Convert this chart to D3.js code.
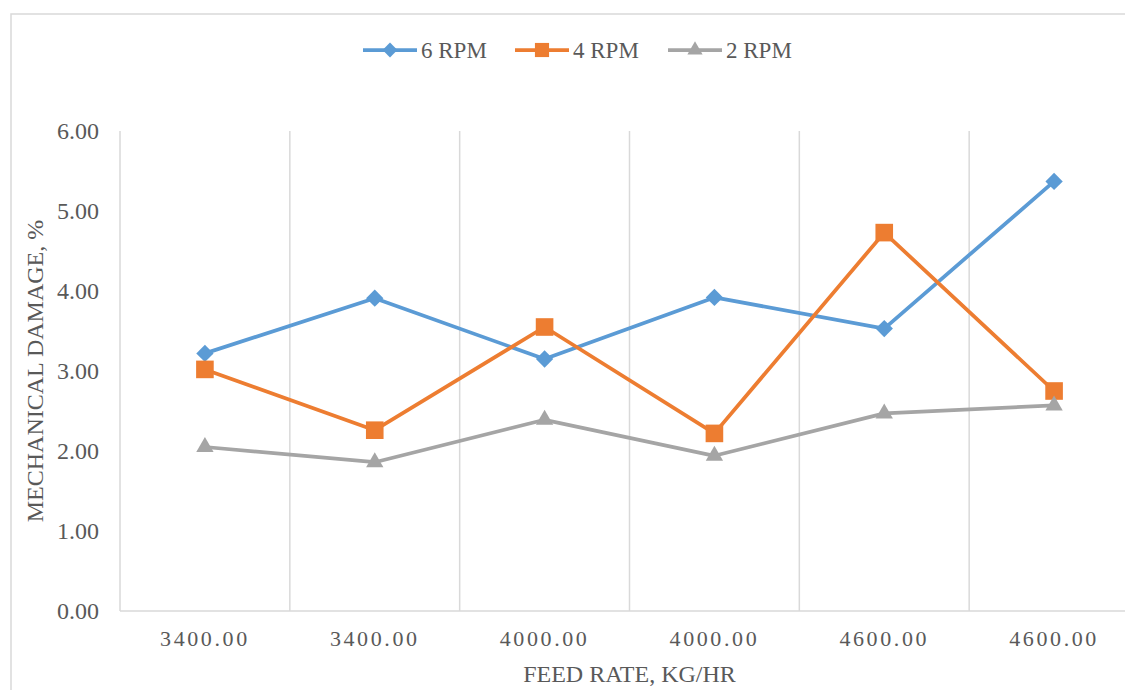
<!DOCTYPE html>
<html>
<head>
<meta charset="utf-8">
<script src="https://cdn.jsdelivr.net/npm/d3@7/dist/d3.min.js"></script>
<style>
  html, body { margin: 0; padding: 0; background: #fff; }
  svg { display: block; }
  text { font-family: "Liberation Serif", "Times New Roman", serif; fill: #595959; }
</style>
</head>
<body>
<svg id="chart" width="1125" height="690"></svg>
<script>
// Feed-rate categories along the horizontal axis
const categories = ["3400.00", "3400.00", "4000.00", "4000.00", "4600.00", "4600.00"];

// Mechanical damage (%) for each drum speed
const rpm6 = [3.22, 3.91, 3.15, 3.92, 3.53, 5.37];
const rpm4 = [3.02, 2.26, 3.55, 2.22, 4.73, 2.75];
const rpm2 = [2.05, 1.86, 2.39, 1.94, 2.47, 2.57];

const seriesNames = ["6 RPM", "4 RPM", "2 RPM"];
const yTicks = [0, 1, 2, 3, 4, 5, 6];

const series = [
  { name: seriesNames[0], values: rpm6, color: "#5B9BD5", marker: "diamond" },
  { name: seriesNames[1], values: rpm4, color: "#ED7D31", marker: "square" },
  { name: seriesNames[2], values: rpm2, color: "#A5A5A5", marker: "triangle" }
];

const svg = d3.select("#chart");
const grid = "#D9D9D9";

// chart-area frame
svg.append("rect")
  .attr("x", 11).attr("y", 14)
  .attr("width", 1200).attr("height", 760)
  .attr("fill", "none").attr("stroke", grid).attr("stroke-width", 1.5);

const plot = { left: 120, right: 1139, top: 131, bottom: 611 };

const x = d3.scaleBand()
  .domain(d3.range(categories.length))
  .range([plot.left, plot.right])
  .paddingInner(0).paddingOuter(0);

const y = d3.scaleLinear().domain([0, 6]).range([plot.bottom, plot.top]);

// vertical gridlines at category boundaries
const bounds = d3.range(categories.length + 1).map(i =>
  i < categories.length ? x(i) : x(categories.length - 1) + x.bandwidth());
svg.append("g").selectAll("line").data(bounds).join("line")
  .attr("x1", d => d).attr("x2", d => d)
  .attr("y1", plot.top).attr("y2", plot.bottom)
  .attr("stroke", grid).attr("stroke-width", 1.5);

// horizontal axis line
svg.append("line")
  .attr("x1", plot.left).attr("x2", plot.right)
  .attr("y1", plot.bottom).attr("y2", plot.bottom)
  .attr("stroke", grid).attr("stroke-width", 1.5);

// y axis
const yAxis = d3.axisLeft(y).tickValues(yTicks).tickFormat(d3.format(".2f")).tickSize(0).tickPadding(21);
const gy = svg.append("g").attr("transform", `translate(${plot.left},0)`).call(yAxis);
gy.select(".domain").remove();
gy.selectAll("text")
  .attr("font-family", "Liberation Serif, serif")
  .attr("font-size", 24).attr("fill", "#595959");

// x axis
const xAxis = d3.axisBottom(x).tickFormat(i => categories[i]).tickSize(0).tickPadding(19);
const gx = svg.append("g").attr("transform", `translate(0,${plot.bottom})`).call(xAxis);
gx.select(".domain").remove();
gx.selectAll("text")
  .attr("font-family", "Liberation Serif, serif")
  .attr("font-size", 22).attr("fill", "#595959")
  .style("letter-spacing", "2.6px");

// axis titles
svg.append("text")
  .attr("x", (plot.left + plot.right) / 2).attr("y", 682)
  .attr("text-anchor", "middle").attr("font-size", 24)
  .text("FEED RATE, KG/HR");

svg.append("text")
  .attr("transform", `translate(43,${(plot.top + plot.bottom) / 2}) rotate(-90)`)
  .attr("text-anchor", "middle").attr("font-size", 24)
  .text("MECHANICAL DAMAGE, %");

// marker shapes
const markerPath = {
  diamond: d3.symbol(d3.symbolSquare, 150)(),
  square: d3.symbol(d3.symbolSquare, 310)(),
  triangle: d3.symbol(d3.symbolTriangle, 130)()
};
const markerRotate = { diamond: 45, square: 0, triangle: 0 };

const line = d3.line()
  .x((d, i) => x(i) + x.bandwidth() / 2)
  .y(d => y(d));

const gs = svg.append("g").selectAll("g").data(series).join("g");
gs.append("path")
  .attr("d", s => line(s.values))
  .attr("fill", "none")
  .attr("stroke", s => s.color)
  .attr("stroke-width", 3.75)
  .attr("stroke-linejoin", "round");

gs.each(function (s) {
  d3.select(this).selectAll("path.mk").data(s.values).join("path")
    .attr("class", "mk")
    .attr("d", markerPath[s.marker])
    .attr("transform", (d, i) =>
      `translate(${x(i) + x.bandwidth() / 2},${y(d)}) rotate(${markerRotate[s.marker]})`)
    .attr("fill", s.color);
});

// legend
const legendX = [363, 515, 668];
const lg = svg.append("g").selectAll("g").data(series).join("g")
  .attr("transform", (s, i) => `translate(${legendX[i]},50)`);
lg.append("line")
  .attr("x1", 0).attr("x2", 54).attr("y1", 0).attr("y2", 0)
  .attr("stroke", s => s.color).attr("stroke-width", 3.75);
lg.append("path")
  .attr("d", s => d3.symbol(
    s.marker === "triangle" ? d3.symbolTriangle : d3.symbolSquare,
    s.marker === "diamond" ? 110 : s.marker === "square" ? 200 : 100)())
  .attr("transform", s => `translate(27,0) rotate(${markerRotate[s.marker]})`)
  .attr("fill", s => s.color);
lg.append("text")
  .attr("x", 58).attr("y", 8)
  .attr("font-size", 23)
  .text(s => s.name);
</script>
</body>
</html>
